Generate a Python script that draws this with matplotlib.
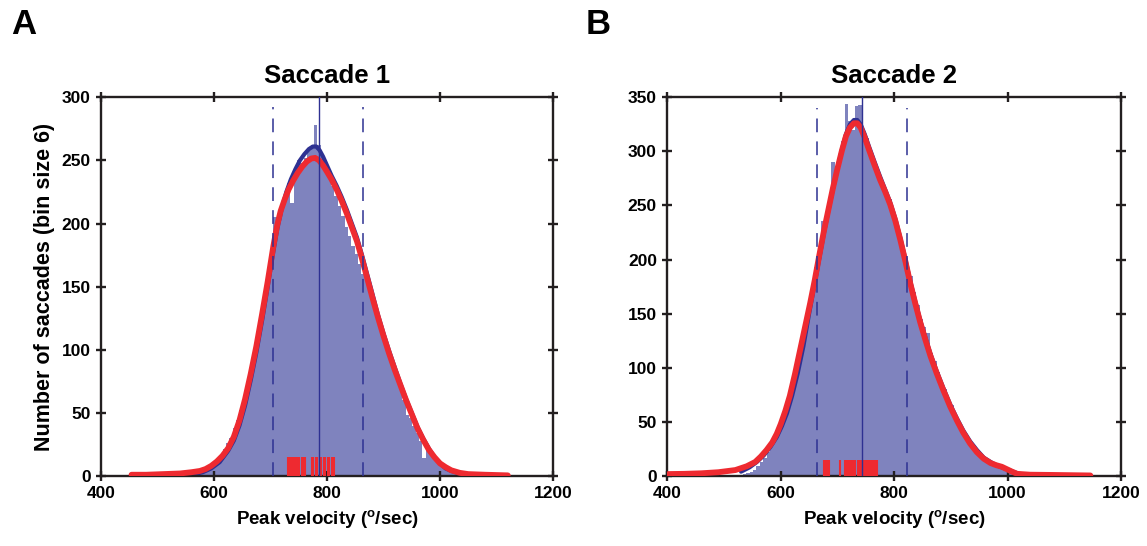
import matplotlib
matplotlib.use("Agg")
import matplotlib.pyplot as plt

plt.rcParams['font.family'] = ['Liberation Sans', 'DejaVu Sans']
plt.rcParams['font.weight'] = 'bold'

# ---------------- Data: Saccade 1 ----------------
bin_width = 6
a_edges = [549, 555, 561, 567, 573, 579, 585, 591, 597, 603, 609, 615, 621, 627, 633, 639,
           645, 651, 657, 663, 669, 675, 681, 687, 693, 699, 705, 711, 717, 723, 729, 735,
           741, 747, 753, 759, 765, 771, 777, 783, 789, 795, 801, 807, 813, 819, 825, 831,
           837, 843, 849, 855, 861, 867, 873, 879, 885, 891, 897, 903, 909, 915, 921, 927,
           933, 939, 945, 951, 957, 963, 969, 975, 981, 987, 993, 999, 1005, 1011, 1017,
           1023, 1029, 1035, 1041, 1047]
a_counts = [1, 1, 2, 3, 3, 5, 6, 8, 10, 13, 16, 21, 26, 30, 38, 44,
            52, 62, 72, 84, 96, 108, 122, 136, 152, 172, 205, 198, 212, 220, 232, 216,
            244, 250, 248, 252, 258, 262, 278, 262, 255, 246, 240, 230, 222, 214, 206, 197,
            190, 182, 176, 168, 160, 164, 152, 140, 134, 122, 112, 104, 96, 86, 78, 70,
            60, 48, 46, 40, 34, 28, 14, 22, 18, 14, 11, 9, 7, 5, 4,
            3, 2, 2, 1, 1]

a_red_x = [454, 480, 510, 540, 560, 575, 585, 595, 605, 615, 625, 635, 645, 655, 665, 675,
           685, 695, 705, 712, 718, 725, 732, 740, 748, 756, 764, 772, 779, 786, 793, 800,
           808, 817, 826, 835, 844, 853, 862, 871, 880, 890, 900, 910, 920, 930, 940, 950,
           960, 970, 980, 990, 1000, 1010, 1020, 1035, 1050, 1080, 1120]
a_red_y = [1, 1, 1.5, 2, 3, 4, 5.5, 8, 11.5, 16, 22, 31, 44, 61, 81, 103,
           128, 154, 182, 199, 210, 219, 227, 234, 240, 245, 249, 251.5, 252, 250, 246, 241,
           235, 227, 218, 208, 197, 186, 172, 157, 142, 126, 111, 97, 84, 72, 60, 49,
           38, 29, 21, 15, 10, 7, 4.5, 2.5, 1.5, 1, 0.5]
a_blue_x = [560, 580, 595, 610, 625, 635, 645, 655, 665, 675, 685, 695, 705, 712, 720, 728,
            736, 744, 752, 760, 768, 775, 781, 787, 793, 800, 808, 817, 826, 835, 844, 853,
            862, 871, 880, 890, 900, 910, 920, 930, 940, 950, 960, 970, 980, 990, 1000, 1010,
            1020, 1035, 1045]
a_blue_y = [1, 3, 6, 11, 20, 28, 40, 56, 76, 98, 123, 150, 178, 196, 212, 225,
            235, 243, 250, 255, 259, 261, 261, 258, 253, 246, 238, 230, 221, 211, 200, 189,
            175, 160, 145, 128, 113, 99, 86, 73, 61, 50, 39, 30, 22, 15, 10, 6,
            4, 2, 1]

a_mean = 785
a_sd = [705, 864]
a_rug = [731, 734, 737, 740, 742, 745, 748, 751, 755, 758, 761,
         773, 776, 780, 783, 787, 790, 794, 797, 801, 804, 808, 812]

# ---------------- Data: Saccade 2 ----------------
b_edges = [533, 539, 545, 551, 557, 563, 569, 575, 581, 587, 593, 599, 605, 611, 617, 623,
           629, 635, 641, 647, 653, 659, 665, 671, 677, 683, 689, 695, 701, 707, 713, 719,
           725, 731, 737, 743, 749, 755, 761, 767, 773, 779, 785, 791, 797, 803, 809, 815,
           821, 827, 833, 839, 845, 851, 857, 863, 869, 875, 881, 887, 893, 899, 905, 911,
           917, 923, 929, 935, 941, 947, 953, 959, 965, 971, 977, 983, 989, 995, 1001, 1007,
           1013, 1019, 1025, 1031]
b_counts = [2, 3, 4, 6, 9, 13, 17, 22, 27, 32, 40, 47, 56, 64, 78, 90,
            102, 118, 134, 150, 170, 193, 200, 236, 232, 252, 290, 280, 296, 310, 344, 328,
            320, 342, 343, 321, 312, 300, 290, 280, 272, 265, 258, 256, 240, 228, 218, 205,
            191, 185, 170, 158, 145, 138, 132, 114, 106, 96, 88, 80, 72, 66, 56, 50,
            44, 38, 32, 28, 24, 20, 18, 15, 15, 12, 10, 9, 8, 7, 6, 4,
            3, 2, 1, 1]

b_red_x = [402, 430, 460, 490, 520, 540, 555, 565, 575, 585, 593, 600, 608, 616, 625, 634,
           643, 652, 660, 668, 676, 684, 692, 700, 708, 715, 722, 729, 735, 741, 748, 756,
           765, 775, 784, 793, 802, 811, 820, 828, 837, 846, 855, 864, 875, 887, 899, 911,
           922, 934, 946, 958, 970, 980, 990, 1000, 1008, 1017, 1040, 1075, 1146]
b_red_y = [1.8, 2, 2.5, 3.5, 5.5, 9, 13, 18, 24, 31, 39, 48, 60, 74, 94, 116,
           138, 160, 181, 204, 226, 246, 266, 284, 301, 314, 322, 326, 326, 322, 313, 301,
           288, 274, 263, 251, 236, 218, 198, 179, 160, 142, 126, 111, 95, 79, 64, 51,
           40, 30, 22, 16, 12, 10, 8.5, 6, 4, 2, 1.2, 1, 0.5]
b_blue_x = [530, 545, 558, 570, 582, 593, 602, 611, 620, 630, 640, 650, 660, 668, 676, 684,
            692, 700, 708, 715, 722, 729, 735, 741, 748, 756, 765, 775, 784, 793, 802, 811,
            820, 828, 837, 846, 855, 864, 875, 887, 899, 911, 922, 934, 946, 958, 970, 980,
            990, 1000, 1010, 1020, 1040]
b_blue_y = [4, 8, 13, 19, 27, 36, 46, 58, 74, 95, 120, 150, 178, 201, 224, 245,
            265, 284, 302, 316, 325, 329, 329, 325, 316, 304, 291, 277, 265, 253, 238, 220,
            200, 181, 162, 144, 128, 113, 97, 81, 66, 53, 42, 32, 24, 17, 13, 10,
            8, 6, 4, 2, 1]

b_mean = 743
b_sd = [664, 822]
b_rug = [676, 679, 682, 685, 704, 713, 716, 719, 722, 725, 728, 731,
         736, 739, 742, 745, 748, 751, 754, 757, 760, 763, 766, 769]

# ---------------- Styles ----------------
bar_color = '#7F83BE'
navy = '#2E3192'
red = '#EE2A30'

fig = plt.figure(figsize=(11.47, 5.46), dpi=100)
axA = fig.add_axes([0.0881, 0.1282, 0.3940, 0.6936])
axB = fig.add_axes([0.5818, 0.1282, 0.3955, 0.6936])


def draw(ax, edges, counts, bx, by, rx, ry, mean, sd, rug, ymax, yticks, sd_top, title):
    ax.bar(edges, counts, width=bin_width, align='edge', color=bar_color, linewidth=0, zorder=1)
    ax.plot(bx, by, color=navy, lw=3.0, zorder=2, solid_capstyle='round', solid_joinstyle='round')
    ax.plot(rx, ry, color=red, lw=4.2, zorder=3, solid_capstyle='round', solid_joinstyle='round')
    ax.vlines(rug, 0, 15, colors=red, lw=1.5, zorder=4)
    for s in sd:
        ax.plot([s, s], [0, sd_top], color=navy, lw=1.1, dashes=(9, 6), zorder=5)
    ax.plot([mean, mean], [0, ymax], color=navy, lw=1.0, zorder=6)
    ax.set_xlim(400, 1200)
    ax.set_ylim(0, ymax)
    ax.set_xticks([400, 600, 800, 1000, 1200])
    ax.set_yticks(yticks)
    for sp in ax.spines.values():
        sp.set_linewidth(1.7)
        sp.set_color('#231F20')
    ax.tick_params(direction='inout', length=7, width=1.7, labelsize=12.5, color='#231F20',
                   top=True, right=True, pad=4)
    for lab in ax.get_xticklabels() + ax.get_yticklabels():
        lab.set_fontweight('bold')
    ax.set_title(title, fontsize=18.5, fontweight='bold', pad=10)
    ax.set_xlabel(r'Peak velocity ($\mathregular{^{o}}$/sec)', fontsize=13.5, fontweight='bold', labelpad=5)


draw(axA, a_edges, a_counts, a_blue_x, a_blue_y, a_red_x, a_red_y, a_mean, a_sd, a_rug,
     300, [0, 50, 100, 150, 200, 250, 300], 292, 'Saccade 1')
draw(axB, b_edges, b_counts, b_blue_x, b_blue_y, b_red_x, b_red_y, b_mean, b_sd, b_rug,
     350, [0, 50, 100, 150, 200, 250, 300, 350], 340, 'Saccade 2')

axA.set_ylabel('Number of saccades (bin size 6)', fontsize=15.5, fontweight='bold', labelpad=5)

fig.text(0.010, 0.955, 'A', fontsize=25, fontweight='bold', ha='left', va='center')
fig.text(0.511, 0.955, 'B', fontsize=25, fontweight='bold', ha='left', va='center')

fig.savefig('out.png', dpi=100)
